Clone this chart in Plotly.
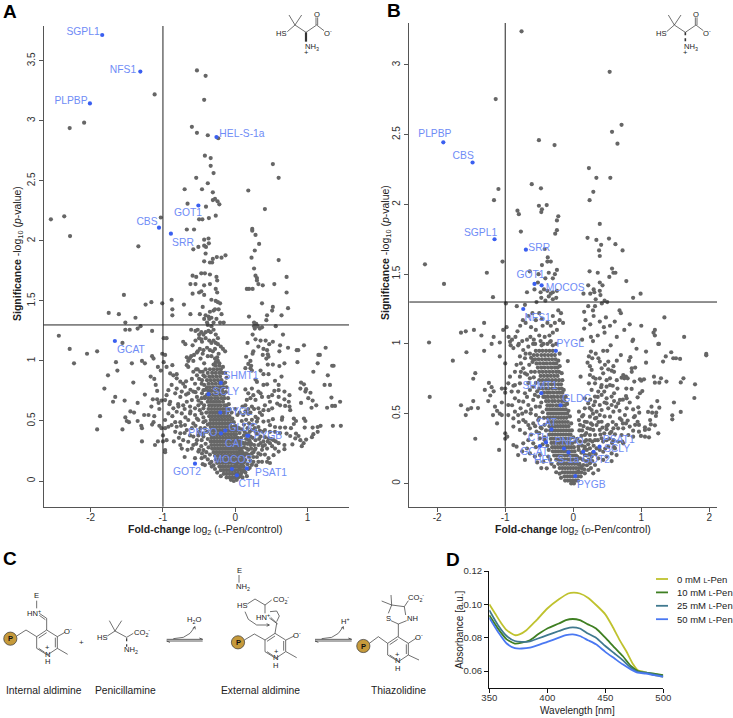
import plotly.graph_objects as go

W, H = 733, 718
GRAY = "#666666"
BLUE = "#3a5ff0"
LBL = "#6f8cf6"
FONT = "Liberation Sans, Arial, sans-serif"

# ---------------- Panel A data (log2 fold change, -log10 p)
a_sparse = [(-0.53,3.42),(-0.41,3.375),(-1.115,3.22),(-0.43,3.175),(-2.09,2.985),(-2.29,2.94),(-0.60,2.95),(-0.53,2.90),(-0.38,2.88),(-0.235,2.855),
(-0.42,2.71),(-0.34,2.69),(0.52,2.64),(-0.34,2.625),(-0.30,2.565),(-0.54,2.525),(0.60,2.525),(-0.38,2.48),(-0.70,2.43),(-0.46,2.43),(0.18,2.42),(-0.31,2.405),
(-0.31,2.34),(-0.28,2.35),(-0.245,2.33),(-0.22,2.305),(-0.66,2.31),(-0.405,2.285),(0.41,2.265),(-0.27,2.21),(-0.365,2.19),(-0.50,2.18),(-0.455,2.18),(-2.365,2.205),(-2.55,2.18),(-1.03,2.195),
(-2.285,2.04),(-1.34,1.955),(-0.67,2.095),(-0.57,2.095),(0.235,2.10),(0.235,2.085),(0.28,2.05),(-0.43,2.01),(-0.37,2.02),(-0.365,1.98),(-0.43,1.96),(-0.405,1.95),(-0.51,1.95),(-0.58,1.93),(0.33,1.975),(0.27,1.92),(-0.41,1.895),(-0.135,1.88),(-0.255,1.865),(-0.19,1.86),(-0.31,1.85),(0.225,1.86),(0.60,1.84)]
a_upper = [(-0.43,1.83),(-0.35,1.82),(-0.32,1.82),(0.26,1.77),(0.28,1.71),(0.30,1.69),(0.30,1.67),(0.71,1.70),(0.32,1.64),(0.38,1.63),(0.54,1.64),(0.71,1.57),(0.16,1.60),(0.19,1.60),(0.24,1.60),
(-0.59,1.71),(-0.54,1.70),(-0.47,1.73),(-0.42,1.73),(-0.35,1.72),(-0.26,1.70),(-0.25,1.67),(-0.62,1.64),(-0.55,1.64),(-0.43,1.63),(-0.35,1.64),(-0.27,1.60),(-0.25,1.57),(-0.50,1.57),(-0.47,1.58),(-0.59,1.56),(-0.43,1.55),(-0.33,1.51),(-0.27,1.50),(-0.24,1.49),(-0.21,1.48),
(-0.45,1.45),(-0.28,1.43),(-0.23,1.43),(-0.62,1.39),(-0.49,1.39),(-0.41,1.38),(-0.37,1.37),(-0.35,1.41),(-0.30,1.42),(-0.26,1.35),(-0.19,1.39),(-0.43,1.35),(-0.39,1.32),(-0.30,1.32),(-0.21,1.32),(-0.16,1.32),(-0.38,1.30),(-0.33,1.29),(-0.36,1.35),(-0.33,1.36),
(0.37,1.48),(0.52,1.45),(0.51,1.42),(0.73,1.44),(0.64,1.38),(0.44,1.38),(0.43,1.34),(0.19,1.37),(0.26,1.32),(0.29,1.31),(0.26,1.29),(0.31,1.29),(0.27,1.27),(0.34,1.27),(0.37,1.28),(0.56,1.29),(0.66,1.22),
(-1.54,1.55),(-1.24,1.47),(-1.16,1.49),(-1.01,1.48),(-0.88,1.51),(-0.71,1.47),(-0.87,1.38),(-0.87,1.43),(-1.75,1.40),(-1.61,1.39),(-1.38,1.36),(-1.52,1.32),(-1.52,1.26),(-1.46,1.26),(-1.35,1.27),(-1.31,1.29),(-1.15,1.25)]
a_arm = [(-0.61,1.26),(-0.55,1.25),(-0.52,1.26),(-0.47,1.24),(-0.50,1.22),(-0.44,1.22),(-0.41,1.24),(-0.37,1.25),(-0.34,1.24),(-0.30,1.26),(-0.27,1.22),(-0.24,1.19),(-0.55,1.17),(-0.50,1.19),(-0.47,1.18),(-0.72,1.16),(-0.69,1.14),(-0.59,1.13),(-0.46,1.16),(-0.41,1.19),(-0.36,1.17),(-0.33,1.15),(-0.30,1.17),(-0.27,1.15),(-0.24,1.14),(-0.20,1.12),(-0.17,1.10),(-0.14,1.08),(-0.52,1.08),(-0.49,1.10),(-0.44,1.09),(-0.39,1.11),(-0.35,1.09),(-0.31,1.08),(-0.28,1.10),(-0.23,1.06),(-0.67,1.03),(-0.63,1.02),(-0.61,1.04),(-0.57,1.05),(-0.53,1.07),(-0.48,1.02),(-0.45,1.06),(-0.38,1.04),(-0.33,1.04),(-0.28,1.02),(-0.25,1.03),(-0.24,1.00),(-0.27,0.99),(-0.22,0.98),(-0.30,0.97),
(0.24,1.22),(0.28,1.18),(0.35,1.17),(0.42,1.17),(0.52,1.16),(0.17,1.15),(0.32,1.12),(0.39,1.10),(0.44,1.09),(0.47,1.14),(0.62,1.13),(0.73,1.11),(0.95,1.13),(1.25,1.11),(0.85,1.09),(1.15,1.05),(-0.99,1.19),(-0.95,1.19),(-1.01,1.06),(-0.97,1.05),(-0.99,0.99),(-0.95,0.95)]
a_left = [(-2.44,1.21),(-2.29,1.10),(-2.23,0.98),(-2.05,1.06),(-1.91,1.08),(-1.56,1.15),(-1.65,0.99),(-1.63,0.92),(-1.76,0.88),(-1.81,0.77),(-1.66,0.70),(-1.69,0.66),(-1.53,0.67),(-1.41,0.82),(-1.87,0.54),(-1.91,0.43),(-1.56,0.43),(-1.43,0.98),
(-1.29,1.00),(-1.25,0.98),(-1.15,1.04),(-1.13,1.02),(-1.07,0.95),(-1.03,0.92),(-1.17,0.87),(-1.12,0.85),(-1.10,0.80),(-1.08,0.75),(-1.25,0.72),(-1.14,0.68),(-1.08,0.68),(-1.06,0.65),(-1.02,0.67),(-1.35,0.65),(-1.45,0.58),(-1.52,0.53),(-1.40,0.57),(-1.26,0.55),(-1.16,0.62),(-1.2,0.55),(-1.12,0.54),(-1.05,0.60),
(-1.50,0.50),(-1.47,0.49),(-1.35,0.50),(-1.30,0.46),(-1.29,0.44),(-1.13,0.49),(-1.15,0.47),(-1.05,0.46),(-1.29,0.33),(-1.11,0.30),(-1.07,0.33),(-1.0,0.33),(-0.97,0.24),(-1.02,0.44),(-1.0,0.38)]
a_midleft = [(-0.90,0.896),(-0.87,0.965),(-0.856,0.88),(-0.81,0.89),(-0.81,0.855),(-0.76,0.827),(-0.72,0.81),(-0.695,0.785),(-0.67,0.965),(-0.65,1.0),(-0.58,1.0),(-0.65,0.95),(-0.58,0.91),(-0.53,0.88),(-0.485,0.91),(-0.44,0.88),(-0.465,0.81),(-0.556,0.81),(-0.51,0.77),(-0.44,0.757),(-0.58,0.745),(-0.65,0.73),(-0.74,0.745),(-0.81,0.77),(-0.88,0.8),(-0.925,0.757),(-0.95,0.715),(-0.97,0.674),(-0.90,0.66),(-0.83,0.73),(-0.76,0.70),(-0.67,0.66),(-0.60,0.674),(-0.53,0.70),(-0.465,0.69),(-0.42,0.70),
(-0.856,0.605),(-0.786,0.62),(-0.72,0.63),(-0.625,0.62),(-0.556,0.605),(-0.51,0.63),(-0.44,0.605),(-0.465,0.563),(-0.556,0.55),(-0.625,0.563),(-0.74,0.563),(-0.81,0.577),(-0.925,0.563),(-0.97,0.508),(-0.83,0.49),(-0.76,0.49),(-0.695,0.466),(-0.81,0.452),(-0.88,0.466),(-0.925,0.452),(-0.65,0.508),(-0.58,0.48),(-0.51,0.508),(-0.44,0.49),(-0.97,0.44),(-0.83,0.41),(-0.76,0.397),(-0.67,0.424),(-0.625,0.38),(-0.58,0.37),(-0.51,0.38),(-0.44,0.397),(-0.465,0.34),(-0.65,0.327),(-0.72,0.34),(-0.76,0.30),(-0.58,0.30),(-0.53,0.34),(-0.95,0.34),(-0.97,0.258),(-0.74,0.27),(-0.60,0.27),(-0.51,0.245),(-0.44,0.258),(-0.556,0.19),(-0.465,0.19),(-0.42,0.203),(-0.42,0.133),(-0.35,0.147),(-0.325,0.12)]
a_dense = [(-0.27,0.96),(-0.22,0.96),(-0.35,0.93),(-0.30,0.93),(-0.25,0.93),(-0.20,0.93),(-0.38,0.90),(-0.32,0.90),(-0.27,0.90),(-0.22,0.90),(-0.18,0.90),(-0.36,0.87),(-0.31,0.87),(-0.26,0.87),(-0.21,0.87),(-0.39,0.84),(-0.34,0.84),(-0.29,0.84),(-0.24,0.84),(-0.19,0.84),(-0.37,0.81),(-0.32,0.81),(-0.27,0.81),(-0.22,0.81),(-0.17,0.81),(-0.39,0.78),(-0.35,0.78),(-0.30,0.78),(-0.25,0.78),(-0.20,0.78),(-0.16,0.78),(-0.37,0.75),(-0.33,0.75),(-0.28,0.75),(-0.23,0.75),(-0.18,0.75),(-0.39,0.72),(-0.35,0.72),(-0.30,0.72),(-0.26,0.72),(-0.21,0.72),(-0.16,0.72),(-0.37,0.69),(-0.33,0.69),(-0.28,0.69),(-0.24,0.69),(-0.19,0.69),(-0.15,0.69),
(-0.38,0.66),(-0.34,0.66),(-0.30,0.66),(-0.26,0.66),(-0.22,0.66),(-0.17,0.66),(-0.36,0.63),(-0.32,0.63),(-0.28,0.63),(-0.24,0.63),(-0.20,0.63),(-0.15,0.63),(-0.12,0.63),(-0.37,0.60),(-0.33,0.60),(-0.29,0.60),(-0.25,0.60),(-0.21,0.60),(-0.17,0.60),(-0.13,0.60),(-0.35,0.57),(-0.31,0.57),(-0.27,0.57),(-0.23,0.57),(-0.19,0.57),(-0.15,0.57),(-0.11,0.57),(-0.36,0.54),(-0.32,0.54),(-0.28,0.54),(-0.24,0.54),(-0.20,0.54),(-0.16,0.54),(-0.12,0.54),(-0.08,0.54),(-0.34,0.51),(-0.30,0.51),(-0.26,0.51),(-0.22,0.51),(-0.18,0.51),(-0.14,0.51),(-0.10,0.51),(-0.06,0.51),(-0.35,0.48),(-0.31,0.48),(-0.27,0.48),(-0.23,0.48),(-0.19,0.48),(-0.15,0.48),(-0.11,0.48),(-0.07,0.48),
(-0.34,0.45),(-0.30,0.45),(-0.26,0.45),(-0.22,0.45),(-0.18,0.45),(-0.14,0.45),(-0.10,0.45),(-0.06,0.45),(-0.03,0.45),(-0.33,0.42),(-0.29,0.42),(-0.25,0.42),(-0.21,0.42),(-0.17,0.42),(-0.13,0.42),(-0.09,0.42),(-0.05,0.42),(-0.02,0.42),(-0.34,0.39),(-0.30,0.39),(-0.26,0.39),(-0.22,0.39),(-0.18,0.39),(-0.14,0.39),(-0.10,0.39),(-0.06,0.39),(-0.02,0.39),(0.01,0.39),(-0.33,0.36),(-0.29,0.36),(-0.25,0.36),(-0.21,0.36),(-0.17,0.36),(-0.13,0.36),(-0.09,0.36),(-0.05,0.36),(-0.01,0.36),(0.03,0.36),(-0.34,0.33),(-0.30,0.33),(-0.26,0.33),(-0.22,0.33),(-0.18,0.33),(-0.14,0.33),(-0.10,0.33),(-0.06,0.33),(-0.02,0.33),(0.02,0.33),(0.05,0.33),
(-0.33,0.30),(-0.29,0.30),(-0.25,0.30),(-0.21,0.30),(-0.17,0.30),(-0.13,0.30),(-0.09,0.30),(-0.05,0.30),(-0.01,0.30),(0.03,0.30),(0.06,0.30),(-0.32,0.27),(-0.28,0.27),(-0.24,0.27),(-0.20,0.27),(-0.16,0.27),(-0.12,0.27),(-0.08,0.27),(-0.04,0.27),(0.0,0.27),(0.04,0.27),(0.08,0.27),(-0.30,0.24),(-0.26,0.24),(-0.22,0.24),(-0.18,0.24),(-0.14,0.24),(-0.10,0.24),(-0.06,0.24),(-0.02,0.24),(0.02,0.24),(0.06,0.24),(0.09,0.24),(-0.28,0.21),(-0.24,0.21),(-0.20,0.21),(-0.16,0.21),(-0.12,0.21),(-0.08,0.21),(-0.04,0.21),(0.0,0.21),(0.04,0.21),(0.08,0.21),(0.12,0.21),
(-0.27,0.18),(-0.23,0.18),(-0.19,0.18),(-0.15,0.18),(-0.11,0.18),(-0.07,0.18),(-0.03,0.18),(0.01,0.18),(0.05,0.18),(0.09,0.18),(0.12,0.18),(-0.25,0.15),(-0.21,0.15),(-0.17,0.15),(-0.13,0.15),(-0.09,0.15),(-0.05,0.15),(-0.01,0.15),(0.03,0.15),(0.07,0.15),(0.11,0.15),(-0.22,0.12),(-0.18,0.12),(-0.14,0.12),(-0.10,0.12),(-0.06,0.12),(-0.02,0.12),(0.02,0.12),(0.06,0.12),(0.10,0.12),(-0.20,0.09),(-0.16,0.09),(-0.12,0.09),(-0.08,0.09),(-0.04,0.09),(0.0,0.09),(0.04,0.09),(0.08,0.09),(0.12,0.09),(-0.16,0.06),(-0.12,0.06),(-0.08,0.06),(-0.04,0.06),(0.0,0.06),(0.04,0.06),(0.08,0.06),(-0.12,0.03),(-0.08,0.03),(-0.04,0.03),(0.0,0.03),(0.04,0.03),(-0.06,0.01),(-0.02,0.0),(0.02,0.01)]
a_fuzz = [(-.43,.98),(-.41,.93),(-.45,.91),(-.42,.87),(-.46,.84),(-.43,.8),(-.41,.76),(-.46,.73),(-.42,.69),(-.47,.65),(-.43,.63),(-.4,.57),(-.44,.53),(-.41,.5),(-.38,.47),(-.42,.44),(-.39,.41),(-.44,.37),(-.38,.35),(-.41,.31),(-.37,.28),(-.4,.24),(-.35,.22),(-.38,.18),(-.33,.16),(-.3,.13),(-.28,.1),(-.25,.07),(-.2,.04),(-.52,.93),(-.5,.85),(-.55,.74),(-.51,.67),(-.49,.59),(-.53,.52),(-.55,.46),(-.48,.44),(-.5,.41),(-.54,.31),(-.47,.29),(-.5,.26),(-.46,.23),(-.45,.14),(-.62,.76),(-.68,.72),(-.7,.6),(-.62,.58),(-.69,.53),(-.75,.46),(-.6,.44),(-.7,.4),(-.78,.36),(-.66,.26),(-.7,.2),(-.85,.33),(-.87,.54),(-.91,.64),(-.79,.64),(-.68,.83),(-.6,.85),(-.54,.93),
(-.17,.95),(-.14,.9),(-.12,.86),(-.14,.82),(-.12,.78),(-.13,.74),(-.1,.69),(-.09,.64),(-.08,.6),(-.05,.57),(-.04,.52),(-.02,.49),(0,.46),(.02,.42),
(.0,.6),(.03,.55),(.06,.57),(.11,.55),(.14,.58),(.18,.56),(.21,.57),(.1,.62),(.18,.6),(.26,.6),(.34,.57),(.31,.52),(.24,.47),(.27,.44),(.34,.42),(.38,.41),(.2,.41),(.16,.39),(.3,.39),(.33,.35),(.39,.33),(.45,.33),(.5,.35),(.56,.33),(.51,.29),(.44,.27),(.38,.29),(.32,.3),(.27,.26),(.23,.23),(.18,.22),(.13,.22),(.3,.2),(.35,.22),(.41,.22),(.37,.16),(.29,.13),(.25,.16),(.21,.17),(.18,.1),(.16,.04),(.05,.44),(.08,.36),(.22,.31),(.19,.34),(.13,.31),(.16,.27),(.1,.22)]
a_right = [(.15,1.035),(.24,1.06),(.25,1.08),(.38,1.05),(.45,1.055),(.46,1.035),(.61,1.08),(.87,1.09),(1.17,1.05),(.21,1.0),(.18,.975),(.22,.96),(.43,1.02),(.45,.97),(.52,.97),(.61,.957),(.68,.98),(.86,.99),(1.14,.98),(1.34,.96),(1.36,.96),(1.08,.91),(1.28,.88),(.14,.94),(.21,.94),(.23,.92),(.35,.92),(.39,.89),(.46,.89),(.64,.87),(.55,.835),(.6,.8),(.91,.82),(.95,.805),(1.235,.80),(1.31,.80),(.28,.845),(.30,.825),(.39,.8),(.44,.805),(.9,.77),(.98,.765),(.97,.745),(1.04,.735),(.6,.757),(.54,.75),(.68,.745),(.75,.715),(.68,.68),(1.33,.695),(.32,.745),(.23,.77),(.14,.763),(.18,.73),(.25,.715),(.35,.73),(.37,.70),(.46,.70),(.51,.715),(.6,.70),(.74,.66),(1.01,.69),(1.07,.67),(.91,.65),(1.12,.63),(1.055,.61),(1.27,.61),(1.34,.625),(1.38,.625),(1.45,.66),(.16,.675),(.21,.69),(.28,.675),(.41,.63),(.48,.66),(.58,.645),(.62,.63),(.69,.625),(.75,.62),(.76,.59),(.14,.63),(.23,.62),(.32,.605),(.39,.59),(.46,.59),(.51,.605),
(.65,.53),(.645,.51),(.81,.52),(.84,.5),(.95,.52),(.97,.5),(.81,.475),(.77,.44),(.96,.445),(1.07,.445),(1.14,.45),(1.18,.46),(1.35,.46),(1.46,.46),(1.14,.41),(1.08,.39),(1.06,.365),(.69,.445),(.62,.445),(.55,.45),(.48,.465),(.46,.5),(.52,.515),(.37,.55),(.28,.535),(.23,.51),(.30,.495),(.39,.495),(.32,.45),(.41,.425),(.48,.41),(.55,.41),(.62,.40),(.71,.395),(.76,.375),(.84,.395),(.875,.375),(.83,.355),(.9,.34),(.98,.345),(.945,.315),(.92,.29),(.79,.305),(.68,.30),(.68,.265),(.6,.315),(.53,.34),(.46,.355),(.41,.365),(.35,.37),(.28,.41),(.23,.425),(.21,.37),(.28,.34),(.35,.315),(.41,.30),(.48,.315),(.55,.27),(.6,.245),(.53,.215),(.46,.19),(.44,.16),(.48,.15),(.37,.26),(.32,.23),(.28,.27),(.21,.30),(.25,.2),(.32,.16),(.23,.135),(.18,.26),(.14,.315),(.115,.23),(.14,.175),(.115,.12),(.07,.26),(.07,.175),
(.03,.44),(.06,.40),(.09,.43),(.12,.38),(.15,.35),(.18,.38),(.2,.33),(.24,.36),(.26,.30),(.1,.32),(.06,.33),(.03,.36),(.12,.28),(.17,.31),(.22,.27),(.25,.24),(.03,.29),(.07,.22),(.11,.19),(.15,.23),(.19,.2),(.03,.22),(.05,.17),(.09,.14),(.13,.16),(.17,.14),(.2,.11),(.02,.13),(.06,.1),(.1,.08),(.14,.07),(.03,.06),(.07,.04),(.1,.03),(.05,.27),(.09,.25),(.08,.31),(.13,.41),(.17,.44),(.12,.47),(.09,.5),(.15,.51),(.19,.48)]
a_blue_x = [-1.84,-1.313,-2.01,-0.26,-0.51,-1.055,-0.89,-1.665,-0.20,-0.37,-0.207,-0.138,-0.198,0.18,0.166,-0.046,0.16,0.023,-0.557]
a_blue_y = [3.715,3.41,3.145,2.865,2.295,2.11,2.06,1.166,0.817,0.723,0.57,0.42,0.396,0.377,0.377,0.10,0.105,0.047,0.144]
a_label_names = ["SGPL1","NFS1","PLPBP","HEL-S-1a","GOT1","CBS","SRR","GCAT","SHMT1","SCLY","PYGL","GLDC","PNPO","PYGB","CAT","MOCOS","PSAT1","CTH","GOT2"]
a_label_x = [-2.105,-1.553,-2.272,0.093,-0.654,-1.221,-0.723,-1.443,0.08,-0.129,0.05,0.106,-0.447,0.452,-0.004,-0.032,0.494,0.19,-0.668]
a_label_y = [3.74,3.424,3.158,2.89,2.226,2.15,1.976,1.086,0.87,0.737,0.57,0.437,0.396,0.371,0.304,0.171,0.063,-0.029,0.071]

# ---------------- Panel B data
b_sparse = [(-0.76,3.24),(0.535,2.95),(-1.14,2.755),(0.71,2.57),(0.57,2.52),(-0.505,2.46),(-0.275,2.425),(0.65,2.435),(0.23,2.26),(0.34,2.19),(0.545,2.19),(-0.61,2.145),(-0.475,2.115),(-1.10,2.11),(0.295,2.09),(-1.165,2.03),(0.24,2.03),(-0.505,1.99),(-0.39,1.995),(-0.46,1.965),(-0.47,1.945),(-0.82,1.955),(-0.80,1.93),(-0.22,1.915),(-0.24,1.885),(0.39,1.86),(-0.77,1.805),(-0.24,1.815),(-0.265,1.79),(0.21,1.76),(0.34,1.745),(0.525,1.755),(0.62,1.715),(0.41,1.71),(-0.42,1.68),(0.38,1.67),(0.725,1.67),(0.39,1.63),(-0.375,1.62),
(-2.18,1.57),(-1.90,1.43),(-1.27,1.51),(-1.18,1.335),(-1.04,1.59),(-0.38,1.59),(-0.33,1.59),(-0.46,1.565),(-0.64,1.52),(-0.24,1.53),(-0.27,1.50),(-0.51,1.50),(-0.36,1.51),(-0.41,1.47),(-0.30,1.47),(-0.52,1.44),(-0.48,1.37),(-0.57,1.39),(-0.68,1.37),(-0.43,1.39),(-0.38,1.38),(-0.33,1.36),(-0.30,1.37),(-0.24,1.38),(-0.47,1.33),(-0.41,1.31),(-0.36,1.34),(-0.30,1.32),(-0.25,1.33),(-0.54,1.30),(-0.83,1.27),(-0.71,1.28),(-0.99,1.29),
(0.24,1.52),(0.36,1.51),(0.57,1.54),(0.59,1.51),(0.62,1.51),(0.53,1.48),(0.78,1.45),(0.39,1.44),(0.22,1.42),(0.30,1.39),(0.43,1.42),(0.15,1.36),(0.25,1.36),(0.31,1.37),(0.39,1.38),(0.40,1.35),(0.99,1.36),(0.88,1.33),(0.33,1.32),(0.42,1.29),(0.50,1.30),(0.46,1.31),(0.32,1.27),(0.29,1.24),(0.16,1.23),(0.22,1.27),(0.68,1.24),(0.70,1.22),(0.48,1.19),(0.54,1.13),(0.39,1.16),(0.30,1.20),(0.83,1.14),(1.0,1.13),(1.34,1.19),(0.61,1.16),(0.45,1.12),(0.25,1.14),(0.16,1.11),(0.18,1.17),(0.26,1.05),(0.36,1.06),(0.46,1.08),(0.64,1.05),(0.75,1.1),(0.88,1.03),(1.2,1.1),(1.2,1.06),(1.18,1.08),(1.63,1.05),(1.25,1.0),(0.13,1.03),(0.29,1.02)]
b_left = [(-1.65,1.08),(-1.58,1.09),(-1.46,1.10),(-1.31,1.15),(-1.35,1.06),(-1.17,1.05),(-1.2,1.0),(-1.08,1.01),(-1.03,1.10),(-0.98,1.12),(-2.12,1.01),(-1.77,0.88),(-1.57,0.94),(-1.31,0.95),(-1.08,0.91),(-1.0,0.86),(-1.44,0.79),(-1.47,0.75),(-1.24,0.72),(-1.3,0.67),(-1.2,0.69),(-1.17,0.66),(-1.22,0.63),(-1.05,0.68),(-1.0,0.68),(-1.25,0.59),(-1.0,0.65),(-2.11,0.62),(-1.65,0.56),(-1.47,0.59),(-1.55,0.53),(-1.5,0.54),(-1.4,0.54),(-1.58,0.49),(-1.15,0.55),(-1.12,0.52),(-1.05,0.58),(-1.08,0.50),(-1.18,0.49),(-1.12,0.43),(-1.44,0.32),(-1.09,0.24),(-1.0,0.32),
(-0.95,1.05),(-0.92,0.99),(-0.9,1.03),(-0.85,1.05),(-0.82,1.09),(-0.78,1.13),(-0.74,1.17),(-0.7,1.15),(-0.66,1.2),(-0.6,1.22),(-0.55,1.17),(-0.62,1.12),(-0.5,1.22),(-0.46,1.18),(-0.55,1.10),(-0.45,1.13),(-0.38,1.15),(-0.33,1.13),(-0.27,1.15),(-0.3,1.2),(-0.22,1.24),(-0.18,1.22),(-0.15,1.15),(-0.2,1.17),(-0.5,1.06),(-0.42,1.05),(-0.35,1.06),(-0.3,1.08),(-0.24,1.1),(-0.8,1.0),(-0.75,1.02),(-0.68,1.03),(-0.63,1.05),(-0.58,1.03),(-0.56,1.0),(-0.48,1.02),(-0.44,1.0),(-0.38,1.0),(-0.33,1.02),(-0.3,0.99),(-0.25,1.0)]
b_midleft = [(-.88,.97),(-.81,.99),(-.93,1.015),(-.66,.98),(-.735,.956),(-.59,1.0),(-.465,.99),(-.34,1.015),(-.784,.91),(-.71,.897),(-.637,.93),(-.588,.885),(-.833,.85),(-.735,.825),(-.647,.85),(-.857,.8),(-.784,.765),(-.71,.789),(-.637,.753),(-.564,.8),(-.93,.765),(-.955,.717),(-.857,.705),(-.784,.717),(-.588,.693),(-.906,.658),(-.81,.658),(-.71,.646),(-.637,.67),(-.564,.634),(-.857,.61),(-.735,.586),(-.66,.562),(-.588,.598),(-.515,.622),(-.955,.562),(-.857,.514),(-.774,.538),(-.696,.514),(-.627,.502),(-.549,.49),(-.49,.55),(-1.05,.49),(-.955,.49),(-.88,.466),(-.81,.49),(-.735,.454),(-.66,.418),(-.588,.43),(-.515,.454),(-.88,.407),(-.784,.383),(-.71,.359),(-.637,.395),(-.54,.371),(-.465,.395),(-1.0,.359),(-.97,.335),(-.88,.275),(-.833,.263),(-.735,.287),(-.66,.31),(-.588,.287),(-.49,.323),(-.416,.31),(-.81,.203),(-.71,.168),(-.637,.215),(-.564,.192),(-.49,.203),(-.44,.156),(-.368,.192),(-.39,.108)]
b_dense = [(-.55,.95),(-.5,.95),(-.45,.95),(-.4,.95),(-.35,.95),(-.3,.95),(-.58,.92),(-.53,.92),(-.47,.92),(-.42,.92),(-.37,.92),(-.32,.92),(-.27,.92),(-.56,.89),(-.51,.89),(-.46,.89),(-.41,.89),(-.36,.89),(-.31,.89),(-.26,.89),(-.54,.86),(-.49,.86),(-.44,.86),(-.39,.86),(-.34,.86),(-.29,.86),(-.25,.86),(-.52,.83),(-.47,.83),(-.42,.83),(-.37,.83),(-.32,.83),(-.27,.83),(-.23,.83),(-.5,.8),(-.45,.8),(-.4,.8),(-.35,.8),(-.3,.8),(-.25,.8),(-.21,.8),(-.48,.77),(-.43,.77),(-.38,.77),(-.33,.77),(-.28,.77),(-.23,.77),(-.5,.74),(-.45,.74),(-.4,.74),(-.36,.74),(-.31,.74),(-.26,.74),(-.21,.74),(-.47,.71),(-.42,.71),(-.37,.71),(-.32,.71),(-.27,.71),(-.22,.71),(-.18,.71),(-.45,.68),(-.4,.68),(-.36,.68),(-.31,.68),(-.26,.68),(-.21,.68),(-.17,.68),(-.43,.65),(-.38,.65),(-.34,.65),(-.29,.65),(-.24,.65),(-.2,.65),(-.16,.65),
(-.41,.62),(-.37,.62),(-.32,.62),(-.28,.62),(-.23,.62),(-.18,.62),(-.14,.62),(-.4,.59),(-.36,.59),(-.31,.59),(-.27,.59),(-.22,.59),(-.17,.59),(-.13,.59),(-.38,.56),(-.34,.56),(-.3,.56),(-.25,.56),(-.21,.56),(-.16,.56),(-.12,.56),(-.39,.53),(-.35,.53),(-.31,.53),(-.27,.53),(-.23,.53),(-.19,.53),(-.15,.53),(-.11,.53),(-.37,.5),(-.33,.5),(-.29,.5),(-.25,.5),(-.21,.5),(-.17,.5),(-.13,.5),(-.09,.5),(-.38,.47),(-.34,.47),(-.3,.47),(-.26,.47),(-.22,.47),(-.18,.47),(-.14,.47),(-.1,.47),(-.36,.44),(-.32,.44),(-.28,.44),(-.24,.44),(-.2,.44),(-.16,.44),(-.12,.44),(-.08,.44),(-.35,.41),(-.31,.41),(-.27,.41),(-.23,.41),(-.19,.41),(-.15,.41),(-.11,.41),(-.07,.41),(-.34,.38),(-.3,.38),(-.26,.38),(-.22,.38),(-.18,.38),(-.14,.38),(-.1,.38),(-.06,.38),(-.35,.35),(-.31,.35),(-.27,.35),(-.23,.35),(-.19,.35),(-.15,.35),(-.11,.35),(-.07,.35),(-.04,.35),(-.33,.32),(-.29,.32),(-.25,.32),(-.21,.32),(-.17,.32),(-.13,.32),(-.09,.32),(-.05,.32),
(-.32,.29),(-.28,.29),(-.24,.29),(-.2,.29),(-.16,.29),(-.12,.29),(-.08,.29),(-.04,.29),(-.01,.29),(-.31,.26),(-.27,.26),(-.23,.26),(-.19,.26),(-.15,.26),(-.11,.26),(-.07,.26),(-.03,.26),(.01,.26),(-.3,.23),(-.26,.23),(-.22,.23),(-.18,.23),(-.14,.23),(-.1,.23),(-.06,.23),(-.02,.23),(.02,.23),(-.28,.2),(-.24,.2),(-.2,.2),(-.16,.2),(-.12,.2),(-.08,.2),(-.04,.2),(0,.2),(.04,.2),(-.25,.17),(-.21,.17),(-.17,.17),(-.13,.17),(-.09,.17),(-.05,.17),(-.01,.17),(.03,.17),(.06,.17),(-.22,.14),(-.18,.14),(-.14,.14),(-.1,.14),(-.06,.14),(-.02,.14),(.02,.14),(.06,.14),(.09,.14),(-.2,.11),(-.16,.11),(-.12,.11),(-.08,.11),(-.04,.11),(0,.11),(.04,.11),(.08,.11),(.12,.11),(-.16,.08),(-.12,.08),(-.08,.08),(-.04,.08),(0,.08),(.04,.08),(.08,.08),(.12,.08),(-.13,.05),(-.09,.05),(-.05,.05),(-.01,.05),(.03,.05),(.07,.05),(.11,.05),(-.08,.02),(-.04,.02),(0,.02),(.04,.02),(.07,.02),(-.03,0),(.01,0)]
b_fuzz = [(-.6,.87),(-.62,.8),(-.58,.76),(-.55,.72),(-.53,.66),(-.5,.68),(-.47,.58),(-.44,.62),(-.45,.51),(-.43,.47),(-.42,.42),(-.4,.38),(-.42,.33),(-.38,.27),(-.36,.24),(-.34,.17),(-.32,.14),(-.28,.12),(-.25,.08),(-.2,.07),(-.18,.04),(-.12,.02),(-.66,.72),(-.68,.62),(-.62,.53),(-.55,.55),(-.5,.47),(-.56,.41),(-.48,.4),(-.5,.36),(-.45,.28),(-.55,.26),(-.53,.15),(-.47,.11),(-.62,.35),(-.7,.44),(-.75,.5),(-.8,.44),(-.68,.25),(-.75,.23),(-.9,.56),(-.8,.59),(-.88,.7),(-.77,.8),(-.68,.78),(-.62,.9),(-.7,.93),(-.77,.86),
(-.2,.93),(-.22,.88),(-.2,.84),(-.17,.79),(-.16,.74),(-.14,.67),(-.11,.62),(-.09,.57),(-.07,.52),(-.05,.48),(-.03,.43),(-.02,.38),(0,.33),(.03,.3),
(.13,.48),(.2,.44),(.24,.54),(.29,.5),(.34,.47),(.37,.44),(.43,.4),(.46,.48),(.51,.42),(.58,.44),(.63,.42),(.56,.37),(.4,.35),(.36,.31),(.44,.3),(.53,.32),(.57,.29),(.47,.25),(.39,.24),(.33,.21),(.2,.2),(.36,.62),(.25,.6),(.3,.56),(.46,.58),(.41,.69),(.33,.75),(.6,.59),(.68,.52),(.73,.6),(.64,.74),(.58,.7),(.63,.55),(.78,.68),(.83,.58),(.88,.53),(.91,.42),(.8,.45),(.73,.43),(.6,.26),(.72,.3)]
b_right = [(.87,1.02),(1.26,1.0),(.55,.99),(.93,.965),(1.07,.945),(.44,.95),(.5,.95),(.26,.945),(.33,.93),(.70,.92),(.84,.905),(1.44,.94),(1.36,.91),(1.47,.897),(1.51,.897),(1.57,.892),(1.955,.928),(1.955,.918),(.82,.88),(.64,.88),(1.07,.865),(1.32,.873),(.23,.91),(.28,.897),(.21,.865),(-.08,.877),(.37,.897),(.39,.873),(.515,.873),(.466,.85),(.59,.84),(.515,.818),(.86,.825),(.91,.83),(.86,.80),(.245,.84),(.27,.813),(.417,.825),(.564,.808),(.6,.80),(.44,.789),(.108,.765),(.245,.777),(.295,.76),(.39,.753),(.49,.74),(.54,.753),(.735,.777),(.775,.765),(.71,.758),(.75,.753),(.8,.753),(.98,.746),(1.04,.746),(1.186,.765),(1.29,.753),(1.62,.753),(1.58,.724),(.897,.73),(1.0,.736),(1.2,.722),(1.265,.722),(1.37,.73),(1.79,.71),(.23,.717),(.32,.717),(.417,.705),(.49,.693),(.54,.705),(.65,.68),(.27,.67),(.368,.658),(.456,.658),(.6,.646),(.858,.677),(1.015,.662),(.98,.646),(.775,.626),(.946,.617),(1.78,.612),(.32,.622),(.417,.634),(.49,.61),(.564,.622),(.785,.61),(.686,.598),(1.235,.59),(1.48,.58),(.17,.61),(.22,.574),(.32,.586),(.39,.562),(.49,.574),(.564,.562),(.66,.574),(.785,.538),(.956,.545),(1.15,.55),(1.265,.543),(.97,.507),(1.1,.512),(1.16,.507),(1.456,.488),(1.58,.512),(1.22,.507),(1.215,.483),(1.456,.459),
(.17,.538),(.27,.526),(.343,.514),(.417,.526),(.515,.538),(.59,.514),(.084,.514),(.148,.49),(.245,.478),(.32,.466),(.39,.49),(.54,.478),(.686,.466),(.76,.49),(.907,.483),(.892,.474),(.71,.454),(.775,.43),(.946,.442),(1.13,.454),(1.14,.423),(.084,.454),(.17,.442),(.26,.43),(.343,.418),(.417,.442),(.49,.41),(.83,.407),(.966,.419),(1.054,.402),(1.2,.416),(.21,.395),(.295,.383),(.39,.383),(.49,.388),(.59,.395),(.66,.395),(.735,.395),(.88,.378),(.966,.371),(1.054,.383),(1.113,.388),(1.25,.359),(.995,.34),(1.054,.335),(1.113,.33),(.17,.347),(.245,.347),(.32,.347),(.456,.359),(.54,.359),(.613,.352),(.71,.347),(.81,.347),(.88,.335),(.17,.3),(.245,.31),(.32,.31),(.417,.323),(.49,.31),(.59,.31),(.66,.3),(.735,.287),(.074,.263),(.17,.263),(.245,.251),(.343,.251),(.515,.263),(.613,.251),(.44,.227),(.564,.215),(.637,.203),(.49,.192),(.564,.16),(.17,.203),(.27,.192),(.368,.18),(.44,.168),(.245,.144),(.32,.132),(.368,.096),(.148,.132),(.221,.096),(.074,.084),(.17,.072),(.294,.072),
(.1,.42),(.13,.38),(.15,.41),(.19,.36),(.25,.39),(.28,.42),(.12,.34),(.09,.38),(.06,.32),(.1,.3),(.13,.27),(.19,.31),(.22,.28),(.28,.3),(.3,.27),(.08,.24),(.12,.22),(.16,.24),(.2,.24),(.24,.21),(.29,.22),(.06,.19),(.1,.18),(.14,.17),(.19,.16),(.23,.17),(.28,.16),(.08,.14),(.12,.12),(.16,.1),(.2,.13),(.26,.11)]
b_blue_x = [-1.91,-1.48,-1.157,-0.696,-0.57,-0.465,-0.735,-0.255,-0.47,-0.186,-0.32,-0.40,-0.49,-0.137,-0.07,0.147,0.30,0.387,0.03]
b_blue_y = [2.445,2.30,1.75,1.675,1.43,1.42,1.25,0.95,0.647,0.56,0.387,0.294,0.267,0.25,0.222,0.227,0.227,0.263,0.053]
b_label_names = ["PLPBP","CBS","SGPL1","SRR","GOT1","MOCOS","NFS1","PYGL","SHMT1","GLDC","CAT","CTH","GCAT","PNPO","HEL-S-1a","GOT2","SCLY","PSAT1","PYGB"]
b_label_x = [-2.034,-1.618,-1.362,-0.5,-0.627,-0.118,-0.524,-0.044,-0.49,0.05,-0.387,-0.515,-0.574,-0.059,-0.244,0.334,0.643,0.668,0.265]
b_label_y = [2.50,2.345,1.79,1.685,1.49,1.40,1.185,0.994,0.695,0.60,0.432,0.324,0.22,0.296,0.162,0.164,0.241,0.308,-0.013]

# ---------------- Panel D data
wl_0 = [350,355,360,365,372,376,382,390,400,410,418,423,428,435,443,450,456,462,468,474,478,483,490,500]
abs_0 = [.100,.0945,.089,.0845,.0815,.082,.0845,.090,.0975,.103,.1065,.107,.1065,.104,.099,.094,.087,.079,.072,.064,.0605,.0595,.058,.0565]
wl_n = [350,358,365,372,378,385,392,400,410,416,422,428,435,442,450,458,465,472,478,485,492,500]
abs_10 = [.0935,.085,.079,.0765,.077,.0785,.082,.0855,.0885,.0905,.0912,.0905,.088,.0855,.080,.074,.069,.063,.060,.059,.0585,.0575]
abs_25 = [.0965,.087,.081,.078,.0775,.0778,.0795,.0815,.084,.0855,.0862,.0855,.0825,.080,.075,.0705,.0665,.062,.0595,.059,.058,.057]
abs_50 = [.092,.083,.0765,.0737,.0735,.074,.0755,.0775,.080,.0815,.082,.081,.0785,.076,.0715,.0675,.064,.061,.059,.0585,.0575,.0565]
conc_names = ["0 mM", "10 mM", "25 mM", "50 mM"]
conc_colors = ["#bfc22e", "#3f7f22", "#40798f", "#4a78f2"]

def xs(*ls): return [p[0] for l in ls for p in l]
def ys(*ls): return [p[1] for l in ls for p in l]

fig = go.Figure()
a_all = (a_sparse, a_upper, a_arm, a_left, a_midleft, a_dense, a_fuzz, a_right)
b_all = (b_sparse, b_left, b_midleft, b_dense, b_fuzz, b_right)
mk = dict(size=4.2, color=GRAY)
fig.add_trace(go.Scatter(x=xs(*a_all), y=ys(*a_all), mode="markers", marker=mk, xaxis="x", yaxis="y", showlegend=False))
fig.add_trace(go.Scatter(x=a_blue_x, y=a_blue_y, mode="markers", marker=dict(size=4.2, color=BLUE), xaxis="x", yaxis="y", showlegend=False))
fig.add_trace(go.Scatter(x=a_label_x, y=a_label_y, text=a_label_names, mode="text", textfont=dict(size=10.3, color=LBL, family=FONT), xaxis="x", yaxis="y", showlegend=False))
fig.add_trace(go.Scatter(x=xs(*b_all), y=ys(*b_all), mode="markers", marker=mk, xaxis="x2", yaxis="y2", showlegend=False))
fig.add_trace(go.Scatter(x=b_blue_x, y=b_blue_y, mode="markers", marker=dict(size=4.2, color=BLUE), xaxis="x2", yaxis="y2", showlegend=False))
fig.add_trace(go.Scatter(x=b_label_x, y=b_label_y, text=b_label_names, mode="text", textfont=dict(size=10.3, color=LBL, family=FONT), xaxis="x2", yaxis="y2", showlegend=False))
for wl, ab, name, col in zip([wl_0, wl_n, wl_n, wl_n], [abs_0, abs_10, abs_25, abs_50], conc_names, conc_colors):
    fig.add_trace(go.Scatter(x=wl, y=ab, mode="lines", name=name, line=dict(color=col, width=1.8, shape="spline", smoothing=0.6), xaxis="x3", yaxis="y3", showlegend=False))

def dom_x(a, b): return [a / W, b / W]
def dom_y(top, bot): return [1 - bot / H, 1 - top / H]
AX = dict(automargin=False, showgrid=False, zeroline=False, showline=True, linecolor="#555555", linewidth=1, ticks="outside", ticklen=4, tickcolor="#555555", tickfont=dict(size=10, color="#333333", family=FONT))
XS = dict(ticklabelstandoff=-3)
DF = dict(linecolor="#111111", linewidth=1.3, tickcolor="#111111", tickfont=dict(size=9.6, color="#333333", family=FONT))
fig.update_layout(
    width=W, height=H, autosize=False, margin=dict(l=0, r=0, t=0, b=0, pad=0), paper_bgcolor="white", plot_bgcolor="white", font=dict(family=FONT, color="#222222"),
    xaxis=dict(AX, **XS, domain=dom_x(43.5, 349), range=[-2.652, 1.573], tickvals=[-2,-1,0,1], ticktext=["-2","-1","0","1"], anchor="y"),
    yaxis=dict(AX, domain=dom_y(26, 506.7), range=[-0.214, 3.79], tickvals=[0,.5,1,1.5,2,2.5,3,3.5], ticktext=["0","0.5","1","1.5","2","2.5","3","3.5"], tickangle=-90, anchor="x"),
    xaxis2=dict(AX, **XS, domain=dom_x(409.3, 717), range=[-2.41, 2.113], tickvals=[-2,-1,0,1,2], ticktext=["-2","-1","0","1","2"], anchor="y2"),
    yaxis2=dict(AX, domain=dom_y(23, 506.7), range=[-0.167, 3.30], tickvals=[0,.5,1,1.5,2,2.5,3], ticktext=["0","0.5","1","1.5","2","2.5","3"], tickangle=-90, anchor="x2"),
    xaxis3=dict(AX, **XS, **{**DF}, domain=dom_x(489.3, 663.3), range=[350, 500], tickvals=[350,400,450,500], anchor="y3") if False else dict({**AX, **DF, **XS}, domain=dom_x(489.3, 663.3), range=[350, 500], tickvals=[350,400,450,500], anchor="y3"),
    yaxis3=dict({**AX, **DF}, domain=dom_y(571, 687.7), range=[0.05, 0.12], tickvals=[.06,.08,.10,.12], tickformat=".2f", anchor="x3"),
)

shapes, ann = [], []
for xr, yr, xv, yv in [("x", "y", -1, 1.3), ("x2", "y2", -1, 1.3)]:
    shapes.append(dict(type="line", xref=xr, yref="paper", x0=xv, x1=xv, y0=fig.layout[("yaxis" + xr[1:])].domain[0], y1=fig.layout[("yaxis" + xr[1:])].domain[1], line=dict(color="#222222", width=1)))
    shapes.append(dict(type="line", xref="paper", yref=yr, x0=fig.layout[("xaxis" + xr[1:])].domain[0], x1=fig.layout[("xaxis" + xr[1:])].domain[1], y0=yv, y1=yv, line=dict(color="#222222", width=1)))

def T(px, py, text, size=10.3, color="#222222", angle=0, anchor="center"):
    ann.append(dict(xref="paper", yref="paper", x=px / W, y=1 - py / H, text=text, showarrow=False, xanchor=anchor, yanchor="middle", textangle=angle, font=dict(size=size, color=color, family=FONT)))

T(10, 12, "<b>A</b>", 19, "#000"); T(394, 11, "<b>B</b>", 19, "#000"); T(10, 558, "<b>C</b>", 19, "#000"); T(453, 559, "<b>D</b>", 19, "#000")
T(18, 254, "<b>Significance</b> -log<sub>10</sub> (<i>p</i>-value)", 10.5, angle=-90)
T(386, 253, "<b>Significance</b> -log<sub>10</sub> (<i>p</i>-value)", 10.5, angle=-90)
T(205, 530, "<b>Fold-change</b> log<sub>2</sub> (<span style='font-size:8px'>L</span>-Pen/control)", 10.5)
T(573, 530, "<b>Fold-change</b> log<sub>2</sub> (<span style='font-size:8px'>D</span>-Pen/control)", 10.5)
T(577, 710, "Wavelength [nm]", 10)
T(459, 629, "Absorbance [a.u.]", 10, angle=-90)
for i, (nm, col) in enumerate(zip(conc_names, conc_colors)):
    y = 579 + i * 13.4
    shapes.append(dict(type="line", xref="paper", yref="paper", x0=656 / W, x1=668 / W, y0=1 - y / H, y1=1 - y / H, line=dict(color=col, width=1.8)))
    T(675, y, nm + " <span style='font-size:7px'>L</span>-Pen", 9.5, anchor="left")

# --- chemical structures (reference-pixel schematic)
def seg(pts, ox=0, oy=0, k=1/3, width=0.7, color="#333333", dash=None):
    for (a, b), (c, d) in zip(pts[:-1], pts[1:]):
        shapes.append(dict(type="line", xref="paper", yref="paper", x0=(ox + a * k) / W, y0=1 - (oy + b * k) / H, x1=(ox + c * k) / W, y1=1 - (oy + d * k) / H, line=dict(color=color, width=width, dash=dash) if dash else dict(color=color, width=width)))
def Z(ox, oy, x, y, s, size=7.6):
    T(ox + x / 3, oy + y / 3, s, size, "#222222")
def ring(ox, oy, dx, dy):
    p = [(0,0),(30,-20),(62,0),(62,35),(32,55),(0,35),(0,0)]
    seg([(dx+a, dy+b) for a, b in p], ox, oy)
    seg([(dx+6,dy+4),(dx+30,dy-12)], ox, oy); seg([(dx+56,dy+3),(dx+56,dy+32)], ox, oy); seg([(dx+6,dy+35),(dx+24,dy+47)], ox, oy)
def disc(ox, oy, x, y):
    cx, cy, r = ox + x / 3, oy + y / 3, 6.6
    shapes.append(dict(type="circle", xref="paper", yref="paper", x0=(cx - r) / W, x1=(cx + r) / W, y0=1 - (cy + r) / H, y1=1 - (cy - r) / H, fillcolor="#c69a3b", line=dict(color="#333333", width=0.7)))
    T(cx, cy, "<b>P</b>", 7.5, "#111")
def pen(ox, oy, x0, dash):
    seg([(x0+17,95),(x0+40,75)], ox, oy); seg([(x0+22,45),(x0+40,75),(x0+60,45)], ox, oy); seg([(x0+40,75),(x0+73,97),(x0+105,75),(x0+127,92)], ox, oy)
    seg([(x0+103,75),(x0+103,52)], ox, oy); seg([(x0+108,75),(x0+108,52)], ox, oy)
    seg([(x0+73,97),(x0+73,125)], ox, oy, width=2.2 if not dash else 1.6, dash="dot" if dash else None)
    Z(ox, oy, x0, 100, "HS"); Z(ox, oy, x0+106, 44, "O"); Z(ox, oy, x0+139, 98, "O<sup>-</sup>"); Z(ox, oy, x0+90, 140, "NH<sub>3</sub>"); Z(ox, oy, x0+73, 156, "+")
pen(0, 0, 845, False)
pen(366, 0, 885, True)

o = (0, 530)
disc(*o, 31, 326); seg([(50,318),(78,300),(110,320)], *o); ring(*o, 110, 320)
seg([(172,320),(195,307)], *o); seg([(172,355),(203,373)], *o); seg([(140,300),(140,265),(118,250)], *o); seg([(136,269),(118,256)], *o); seg([(110,235),(110,212)], *o)
Z(*o,110,197,"E"); Z(*o,103,248,"HN<sup>+</sup>"); Z(*o,205,303,"O<sup>-</sup>"); Z(*o,141,372,"N"); Z(*o,143,353,"+"); Z(*o,141,393,"H")
Z(*o,245,337,"+",8)
seg([(322,318),(345,303),(380,322),(400,310)], *o); seg([(328,272),(345,303),(365,272)], *o); seg([(380,325),(380,350)], *o, dash="dot", width=1.2)
Z(*o,307,323,"HS"); Z(*o,425,307,"CO<sub>2</sub><sup>-</sup>"); Z(*o,392,360,"NH<sub>2</sub>")
for a, b in [(500, 608), (945, 1055)]:
    seg([(a,328),(b,328),(b-10,324)], *o, width=0.8); seg([(a,333),(b,333)], *o, width=0.8); seg([(a,333),(a+10,337)], *o, width=0.8)
seg([(520,326),(550,322),(570,310),(585,290)], *o); seg([(578,295),(585,290),(586,298)], *o); Z(*o,581,269,"H<sub>2</sub>O")
seg([(965,326),(995,322),(1015,310),(1030,290)], *o); seg([(1023,295),(1030,290),(1031,298)], *o); Z(*o,1037,272,"H<sup>+</sup>")
disc(*o,714,337); seg([(733,330),(763,312),(795,330)], *o); ring(*o,795,330)
seg([(858,330),(882,318)], *o); seg([(858,365),(890,383)], *o); seg([(825,310),(830,280),(808,264)], *o); seg([(833,282),(812,262)], *o)
seg([(795,250),(795,225),(815,210)], *o); seg([(795,225),(765,207),(742,222)], *o); seg([(717,135),(717,158)], *o)
seg([(735,245),(745,268),(770,285),(808,285)], *o); seg([(800,281),(808,285),(800,289)], *o); seg([(810,245),(830,243),(838,258),(830,275)], *o)
Z(*o,717,120,"E"); Z(*o,728,172,"NH<sub>2</sub>"); Z(*o,727,226,"HS"); Z(*o,842,207,"CO<sub>2</sub><sup>-</sup>"); Z(*o,788,260,"HN<sup>+</sup>"); Z(*o,892,315,"O<sup>-</sup>"); Z(*o,827,382,"N"); Z(*o,828,365,"+"); Z(*o,827,405,"H")
disc(*o,1090,348); seg([(1108,340),(1135,320),(1163,340)], *o); ring(*o,1163,340)
seg([(1225,340),(1248,325)], *o); seg([(1225,375),(1257,390)], *o); seg([(1195,320),(1195,282),(1173,272)], *o); seg([(1195,282),(1220,272)], *o)
seg([(1217,255),(1213,230),(1175,225),(1165,250)], *o); seg([(1175,225),(1145,213)], *o); seg([(1175,225),(1173,195)], *o); seg([(1213,230),(1225,212)], *o)
Z(*o,1165,265,"S"); Z(*o,1236,265,"NH"); Z(*o,1248,203,"CO<sub>2</sub><sup>-</sup>"); Z(*o,1258,320,"O<sup>-</sup>"); Z(*o,1193,392,"N"); Z(*o,1193,372,"+"); Z(*o,1193,415,"H")
for px, s in [(132,"Internal aldimine"),(375,"Penicillamine"),(780,"External aldimine"),(1196,"Thiazolidine")]:
    T(px / 3, 530 + 480 / 3, s, 10.3)

fig.update_layout(shapes=shapes, annotations=ann)
fig.write_html("out.html", config={"displayModeBar": False}, post_script="document.body.style.margin='0';document.documentElement.style.overflow='hidden';")
